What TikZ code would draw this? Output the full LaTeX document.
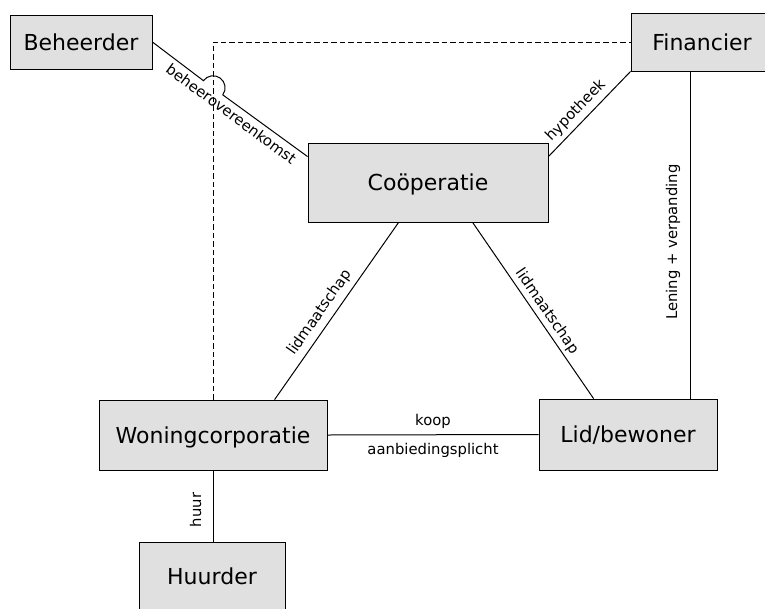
\documentclass[tikz,border=0pt]{standalone}
\usepackage{fontspec}
\setmainfont{DejaVu Sans}
\usetikzlibrary{calc}
\begin{document}
\begin{tikzpicture}[x=1pt,y=-1pt,
  box/.style={draw=black, line width=0.8pt, fill=black!12, inner sep=0pt,
    font=\fontsize{22}{26}\selectfont, text height=16pt, text depth=0pt},
  conn/.style={draw=black, line width=1pt},
  dashconn/.style={draw=black, line width=0.9pt, dash pattern=on 5.5pt off 3pt},
  lbl/.style={font=\fontsize{14.8}{17}\selectfont, inner sep=0pt}]
\useasboundingbox (0,0) rectangle (765,608);
\fill[white] (0,0) rectangle (765,608);

\node[box, minimum width=142pt, minimum height=54pt] (beh) at (81,42) {Beheerder};
\node[box, minimum width=142pt, minimum height=58pt] (fin) at (702,42) {Financier};
\node[box, minimum width=240pt, minimum height=79pt] (coop) at (428,182.5) {Coöperatie};
\node[box, minimum width=228pt, minimum height=70pt] (won) at (213,435) {Woningcorporatie};
\node[box, minimum width=178pt, minimum height=71pt] (lid) at (628,434.5) {Lid/bewoner};
\node[box, minimum width=146pt, minimum height=68pt] (huu) at (212,576) {Huurder};

% dashed connector Woningcorporatie -- Financier
\draw[dashconn] (won.north) -- (won.north |- fin.west) -- (fin.west);

% beheerovereenkomst with a jump over the dashed line
\coordinate (ce) at ($(coop.north west)+(0,14)$);
\coordinate (P) at (213,87.9);
\draw[conn] (beh.east) -- ($(P)!12pt!(beh.east)$)
  arc[start angle=143.7, end angle=-36.3, radius=12pt] -- (ce);
\path (beh.east) -- (ce) node[lbl, sloped, below=5pt, pos=0.55] {beheerovereenkomst};

% hypotheek
\coordinate (ch) at ($(coop.north east)+(0,14)$);
\draw[conn] (ch) -- (fin.south west) node[lbl, sloped, above=4.5pt, pos=0.44] {hypotheek};

% Lening + verpanding
\coordinate (lx) at (690,0);
\draw[conn] (lid.north -| lx) -- (fin.south -| lx);
\node[lbl, rotate=90, anchor=base] (lenlbl) at (677,242) {Lening + verpanding};

% lidmaatschap (left and right)
\coordinate (cl) at ($(coop.south west)+(91,0)$);
\coordinate (wl) at ($(won.north west)+(176,0)$);
\draw[conn] (wl) -- (cl) node[lbl, sloped, above=5pt, pos=0.45] {lidmaatschap};
\coordinate (cr) at ($(coop.south west)+(165,0)$);
\coordinate (lr) at ($(lid.north west)+(55,0)$);
\draw[conn] (cr) -- (lr) node[lbl, sloped, above=3pt, pos=0.54] {lidmaatschap};

% koop / aanbiedingsplicht
\draw[conn] (won.east) -- (lid.west)
  node[lbl, midway, above=6pt] {koop}
  node[lbl, midway, below=8pt] {aanbiedingsplicht};

% huur
\draw[conn] (won.south) -- (won.south |- huu.north);
\node[lbl, rotate=90, anchor=base] (huurlbl) at (201,510) {huur};
\end{tikzpicture}
\end{document}
